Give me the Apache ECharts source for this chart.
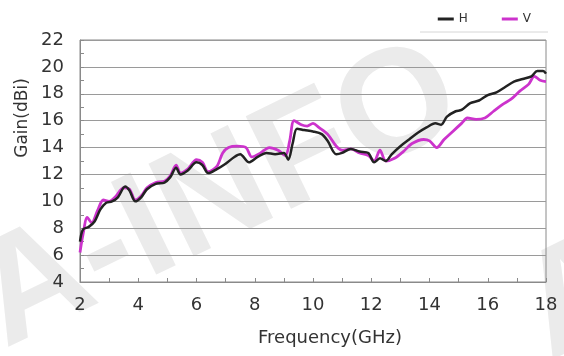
<!DOCTYPE html>
<html>
<head>
<meta charset="utf-8">
<script src="https://cdn.jsdelivr.net/npm/echarts@6/dist/echarts.min.js"></script>
<style>html,body{margin:0;padding:0;background:#fff}#c{width:564px;height:356px}</style>
</head>
<body>
<div id="c"></div>
<script>
const seriesNames = ['H', 'V'];
const xTicks = [2, 4, 6, 8, 10, 12, 14, 16, 18];
const yTicks = [4, 6, 8, 10, 12, 14, 16, 18, 20, 22];
const hData = [[2.0,7.0],[2.1,7.9],[2.3,8.1],[2.5,8.5],[2.7,9.4],[2.9,9.9],[3.1,10.0],[3.3,10.3],[3.55,11.1],[3.7,10.8],[3.9,10.0],[4.1,10.3],[4.3,10.9],[4.6,11.3],[4.9,11.4],[5.1,11.8],[5.3,12.5],[5.45,12.0],[5.7,12.3],[6.0,12.9],[6.2,12.7],[6.4,12.1],[6.7,12.4],[7.0,12.8],[7.3,13.3],[7.5,13.5],[7.8,12.9],[8.1,13.3],[8.4,13.6],[8.7,13.5],[9.0,13.6],[9.15,13.1],[9.3,14.3],[9.45,15.4],[9.7,15.3],[10.0,15.2],[10.3,15.0],[10.5,14.5],[10.8,13.5],[11.0,13.6],[11.3,13.9],[11.6,13.7],[11.9,13.6],[12.1,12.9],[12.3,13.2],[12.5,13.0],[12.7,13.5],[13.0,14.1],[13.3,14.6],[13.6,15.1],[13.9,15.5],[14.2,15.8],[14.4,15.7],[14.6,16.3],[14.9,16.7],[15.1,16.8],[15.4,17.3],[15.7,17.5],[16.0,17.9],[16.3,18.1],[16.6,18.5],[16.9,18.9],[17.2,19.1],[17.5,19.3],[17.7,19.7],[17.9,19.7],[18.0,19.5]];
const vData = [[2.0,6.2],[2.1,7.5],[2.25,8.8],[2.4,8.4],[2.6,9.3],[2.8,10.1],[3.0,10.0],[3.2,10.3],[3.5,11.0],[3.7,10.9],[3.9,10.1],[4.1,10.4],[4.3,11.0],[4.6,11.4],[4.9,11.5],[5.1,11.9],[5.3,12.7],[5.45,12.1],[5.7,12.4],[6.0,13.1],[6.2,12.9],[6.4,12.2],[6.7,12.6],[6.9,13.6],[7.1,14.0],[7.4,14.1],[7.7,14.0],[7.9,13.3],[8.2,13.6],[8.5,14.0],[8.8,13.8],[9.05,13.4],[9.2,14.5],[9.35,16.0],[9.6,15.7],[9.8,15.6],[10.0,15.8],[10.2,15.5],[10.5,15.0],[10.8,14.1],[11.0,13.8],[11.3,13.9],[11.6,13.6],[11.9,13.4],[12.1,13.0],[12.3,13.8],[12.5,13.0],[12.8,13.2],[13.1,13.7],[13.4,14.3],[13.8,14.6],[14.0,14.5],[14.25,14.0],[14.5,14.6],[14.8,15.2],[15.1,15.8],[15.3,16.2],[15.6,16.1],[15.9,16.2],[16.2,16.7],[16.5,17.2],[16.8,17.6],[17.1,18.2],[17.4,18.7],[17.6,19.3],[17.8,19.0],[18.0,18.9]];
const xName = 'Frequency(GHz)';
const yName = 'Gain(dBi)';
const watermark = 'A-INFO';

const font = 'DejaVu Sans';
const rot = 26 * Math.PI / 180;
const chart = echarts.init(document.getElementById('c'), null, {renderer: 'canvas'});
chart.setOption({
  animation: false,
  backgroundColor: '#fff',
  grid: {left: 80, right: 18, top: 40, bottom: 74, show: true, borderColor: '#8a8a8a', borderWidth: 1},
  legend: {
    data: seriesNames, right: 28, top: 8, itemGap: 34, itemWidth: 16, itemHeight: 3, icon: 'rect',
    textStyle: {fontFamily: font, fontSize: 12, color: '#333'}
  },
  graphic: [
    {type: 'text', z: -10, rotation: rot, x: 219, y: 198,
     style: {text: watermark, font: 'bold 150px "Liberation Sans"', fill: '#ebebeb', align: 'center', verticalAlign: 'middle'}},
    {type: 'text', z: -10, rotation: rot, x: 580, y: 300,
     style: {text: 'A', font: 'bold 150px "Liberation Sans"', fill: '#ebebeb', align: 'center', verticalAlign: 'middle'}},
    {type: 'text', rotation: Math.PI / 2, x: 23, y: 118,
     style: {text: yName, font: '17px "DejaVu Sans"', fill: '#333', align: 'center', verticalAlign: 'middle'}},
    {type: 'text', x: 330, y: 338,
     style: {text: xName, font: '18px "DejaVu Sans"', fill: '#333', align: 'center', verticalAlign: 'middle'}},
    {type: 'line', shape: {x1: 420, y1: 32, x2: 548, y2: 32}, style: {stroke: '#d6d6d6', lineWidth: 1}}
  ],
  xAxis: {
    type: 'value', min: xTicks[0], max: xTicks[xTicks.length - 1], interval: 2,
    axisLine: {lineStyle: {color: '#8a8a8a'}},
    axisTick: {inside: true, length: 4, lineStyle: {color: '#8a8a8a'}},
    minorTick: {show: true, splitNumber: 2, length: 4, lineStyle: {color: '#8a8a8a'}},
    axisLabel: {margin: 14, fontFamily: font, fontSize: 18, color: '#333'},
    splitLine: {show: false}
  },
  yAxis: {
    type: 'value', min: yTicks[0], max: yTicks[yTicks.length - 1], interval: 2,
    axisLine: {show: true, lineStyle: {color: '#8a8a8a'}},
    axisTick: {show: true, inside: true, length: 4, lineStyle: {color: '#8a8a8a'}},
    minorTick: {show: true, splitNumber: 2, length: 4, lineStyle: {color: '#8a8a8a'}},
    axisLabel: {margin: 16, fontFamily: font, fontSize: 18, color: '#333'},
    splitLine: {show: true, lineStyle: {color: '#9a9a9a', width: 1}}
  },
  series: [
    {name: seriesNames[0], type: 'line', data: hData, showSymbol: false, smooth: 0.3, z: 3,
     itemStyle: {color: '#222'}, lineStyle: {color: '#222', width: 2.5}},
    {name: seriesNames[1], type: 'line', data: vData, showSymbol: false, smooth: 0.3, z: 2,
     itemStyle: {color: '#cc33cc'}, lineStyle: {color: '#cc33cc', width: 2.8}}
  ]
});
</script>
</body>
</html>
